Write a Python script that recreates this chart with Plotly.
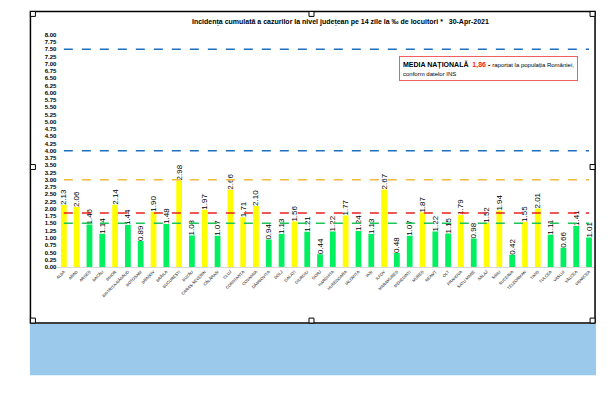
import plotly.graph_objects as go

# page body has an 8px default margin; figure is sized to fit the window inside it
OFF = 8
W, H = 598, 382

counties = ["ALBA", "ARAD", "ARGEȘ", "BACĂU", "BIHOR", "BISTRIȚA-NĂSĂUD", "BOTOȘANI", "BRAȘOV",
            "BRĂILA", "BUCUREȘTI", "BUZĂU", "CARAȘ-SEVERIN", "CĂLĂRAȘI", "CLUJ", "CONSTANȚA",
            "COVASNA", "DÂMBOVIȚA", "DOLJ", "GALAȚI", "GIURGIU", "GORJ", "HARGHITA", "HUNEDOARA",
            "IALOMIȚA", "IAȘI", "ILFOV", "MARAMUREȘ", "MEHEDINȚI", "MUREȘ", "NEAMȚ", "OLT",
            "PRAHOVA", "SATU MARE", "SĂLAJ", "SIBIU", "SUCEAVA", "TELEORMAN", "TIMIȘ", "TULCEA",
            "VASLUI", "VÂLCEA", "VRANCEA"]
incidence = [2.13, 2.06, 1.46, 1.14, 2.14, 1.44, 0.89, 1.90, 1.48, 2.98, 1.08, 1.97, 1.07, 2.66,
             1.71, 2.10, 0.94, 1.13, 1.56, 1.21, 0.44, 1.22, 1.77, 1.24, 1.13, 2.67, 0.48, 1.07,
             1.87, 1.22, 1.15, 1.79, 0.98, 1.52, 1.94, 0.42, 1.55, 2.01, 1.11, 0.66, 1.41, 1.01]
national_avg = 1.86
thresholds = {"7.5": 7.5, "4.0": 4.0, "3.0": 3.0, "1.5": 1.5}
y_ticks = [i * 0.25 for i in range(33)]

YELLOW, GREEN = "#FFFF00", "#00F060"
bar_colors = [YELLOW if v > 1.5 else GREEN for v in incidence]

def px(x):
    return (x - OFF) / W

def py(y):
    return 1 - (y - OFF) / H

fig = go.Figure()
fig.add_trace(go.Bar(
    x=counties, y=incidence, marker=dict(color=bar_colors, line=dict(width=0)),
    width=0.45, showlegend=False,
))

line_specs = [
    (thresholds["7.5"], "#1F6FC0"),
    (thresholds["4.0"], "#1F6FC0"),
    (thresholds["3.0"], "#F5B940"),
    (national_avg, "#E8201E"),
    (thresholds["1.5"], "#1DC45A"),
]
for val, col in line_specs:
    fig.add_trace(go.Scatter(
        x=counties, y=[val] * len(counties), mode="lines",
        line=dict(color=col, width=1.5, dash="dash"), showlegend=False, hoverinfo="skip",
    ))

# transparent copy of the bars carrying the value labels, drawn above the lines
fig.add_trace(go.Bar(
    x=counties, y=incidence, marker=dict(color="rgba(0,0,0,0)", line=dict(width=0)),
    width=0.45, text=[f"{v:.2f}" for v in incidence], textposition="outside",
    textangle=-90, constraintext="none",
    textfont=dict(family="Liberation Sans", size=8, color="black"),
    cliponaxis=False, showlegend=False, hoverinfo="skip",
))

shapes = []
shapes.append(dict(type="rect", xref="paper", yref="paper", x0=px(28), x1=px(596),
                   y0=py(378), y1=py(326), fillcolor="#9BC9EC", line=dict(width=0), layer="below"))
shapes.append(dict(type="rect", xref="paper", yref="paper", x0=px(28.5), x1=px(595),
                   y0=py(325), y1=py(8.5), line=dict(color="black", width=1.5)))
for hx, hy in [(28.5, 8.5), (308, 8.5), (590, 8.5), (28.5, 164), (590, 164),
               (28.5, 320), (308, 320), (590, 320)]:
    shapes.append(dict(type="rect", xref="paper", yref="paper", x0=px(hx), x1=px(hx + 5),
                       y0=py(hy + 5), y1=py(hy), fillcolor="white",
                       line=dict(color="black", width=1)))

annotations = [
    dict(xref="paper", yref="paper", x=px(340), y=py(19), xanchor="center", yanchor="middle",
         showarrow=False,
         text="<b>Incidența cumulată a cazurilor la nivel județean pe 14 zile la ‰ de locuitori *   30-Apr-2021</b>",
         font=dict(family="Liberation Sans", size=7, color="black")),
    dict(xref="paper", yref="paper", x=px(398), y=py(54), xanchor="left", yanchor="top",
         showarrow=False, align="left",
         text=("<b>MEDIA NAȚIONALĂ</b>  <span style='color:#FF2020'><b>1,86</b></span> <b>-</b> "
               "<span style='font-size:6px'>raportat la populația României,</span><br>"
               "<span style='font-size:6px'>conform datelor INS</span>"),
         font=dict(family="Liberation Sans", size=7, color="black"),
         bordercolor="#F06060", borderwidth=1, borderpad=3, bgcolor="white"),
]

fig.update_layout(
    width=W, height=H, margin=dict(l=0, r=0, t=0, b=0),
    paper_bgcolor="white", plot_bgcolor="white",
    barmode="overlay", shapes=shapes, annotations=annotations,
    xaxis=dict(domain=[px(55.6), px(595.4)], range=[-0.5, len(counties) - 0.5],
               tickangle=-45, tickfont=dict(family="Liberation Sans", size=4, color="black"),
               showline=True, linecolor="#D9D9D9", linewidth=1, showgrid=False,
               ticks="", fixedrange=True),
    yaxis=dict(domain=[py(268), py(32)], range=[0, 8], tickvals=y_ticks,
               ticktext=[f"<b>{v:.2f}</b>" for v in y_ticks],
               tickfont=dict(family="Liberation Sans", size=6, color="black"),
               showgrid=False, zeroline=False, showline=False, ticks=""),
)

fig.write_html("out.html")
